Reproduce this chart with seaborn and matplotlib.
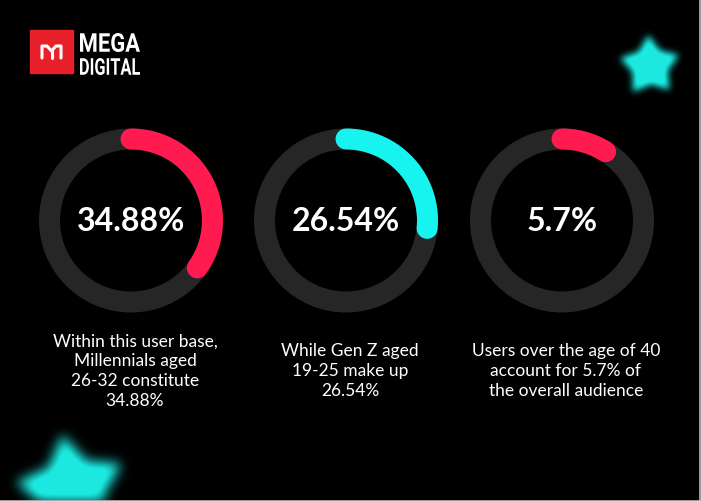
import numpy as np
import matplotlib
matplotlib.use("Agg")
import matplotlib.pyplot as plt
from matplotlib.patches import Circle, Rectangle, PathPatch
from matplotlib.path import Path
from matplotlib.textpath import TextPath
from matplotlib.font_manager import FontProperties
from matplotlib.transforms import Affine2D
import pandas as pd
import seaborn as sns

# Chart data
labels = ["34.88%", "26.54%", "5.7%"]
shares = [34.88, 26.54, 5.7]
# the third ring is drawn longer than its label in the original
arc_shares = [34.88, 26.54, 9.0]
captions = [
    "Within this user base,\nMillennials aged\n26-32 constitute\n34.88%",
    "While Gen Z aged\n19-25 make up\n26.54%",
    "Users over the age of 40\naccount for 5.7% of\nthe overall audience",
]
arc_colors = ["#ff1a4f", "#17f4ef", "#ff1a4f"]

sns.set_theme(style="dark")
plt.rcParams["font.family"] = ["Lato", "DejaVu Sans"]

W, H = 701, 501
fig = plt.figure(figsize=(W / 100, H / 100), dpi=100, facecolor="black")
ax = fig.add_axes([0, 0, 1, 1])
ax.set_facecolor("black")
ax.set_xlim(0, W)
ax.set_ylim(H, 0)
ax.axis("off")

# Blurred glowing stars
def star_path(cx, cy, r_out, r_in, rot):
    pts = []
    for i in range(10):
        ang = np.deg2rad(rot + i * 36)
        r = r_out if i % 2 == 0 else r_in
        pts.append((cx + r * np.sin(ang), cy - r * np.cos(ang)))
    return Path(pts + [pts[0]])

def blur(img, sigma):
    k = np.arange(-int(3 * sigma), int(3 * sigma) + 1)
    g = np.exp(-k**2 / (2 * sigma**2))
    g /= g.sum()
    img = np.apply_along_axis(lambda v: np.convolve(v, g, mode="same"), 0, img)
    img = np.apply_along_axis(lambda v: np.convolve(v, g, mode="same"), 1, img)
    return img

yy, xx = np.mgrid[0:H, 0:W]
grid = np.column_stack([xx.ravel() + 0.5, yy.ravel() + 0.5])
glow = np.zeros((H, W))
for cx, cy, ro, ri, rot, sig in [(650, 66, 31, 18, -3, 3.5), (72, 490, 56, 32, -10, 6.0)]:
    m = star_path(cx, cy, ro, ri, rot).contains_points(grid).reshape(H, W).astype(float)
    glow = np.maximum(glow, blur(m, sig))
rgba = np.zeros((H, W, 4))
rgba[..., 0] = 0x1c / 255
rgba[..., 1] = 0xe8 / 255
rgba[..., 2] = 0xe0 / 255
rgba[..., 3] = np.clip(glow * 1.15, 0, 1)
ax.imshow(rgba, extent=(0, W, H, 0), zorder=1, interpolation="bilinear")

# Donut rings
centers_x = [131, 346, 562]
cy = 220.5
r_mid = 81.5
lw = 21 * 72 / 100

for i, (lab, share, arc, cap, col) in enumerate(zip(labels, shares, arc_shares, captions, arc_colors)):
    cx = centers_x[i]
    ax.add_patch(Circle((cx, cy), r_mid, fill=False, lw=lw, ec="#262626", zorder=2))
    theta = np.linspace(0, 2 * np.pi * arc / 100, 200)
    arc_df = pd.DataFrame({"x": cx + r_mid * np.sin(theta), "y": cy - r_mid * np.cos(theta)})
    sns.lineplot(data=arc_df, x="x", y="y", sort=False, estimator=None, ax=ax,
                 color=col, lw=lw, solid_capstyle="round", zorder=3)
    ax.text(cx, cy + 1, lab, color="white", fontsize=23, fontweight="bold",
            ha="center", va="center", zorder=4)
    ax.text(cx + 4, 371, cap, color="white", fontsize=12.5, ha="center", va="center",
            linespacing=1.3, zorder=4)

# Logo
ax.add_patch(Rectangle((30, 30), 43, 43, color="#e8202a", zorder=4))
ax.plot([42, 42, 47, 51.5, 56, 61, 61], [58, 46, 46, 51, 46, 46, 58], color="white",
        lw=2.2, solid_joinstyle="round", zorder=5)
ax.plot([51.5, 51.5], [51, 58], color="white", lw=2.2, zorder=5)

logo_font = FontProperties(family="Roboto", weight="bold")
def squeezed_text(s, x0, y_top, width, height):
    tp = TextPath((0, 0), s, size=100, prop=logo_font)
    ext = tp.get_extents()
    tr = (Affine2D().translate(-ext.x0, -ext.y1)
          .scale(width / ext.width, -height / ext.height)
          .translate(x0, y_top))
    ax.add_patch(PathPatch(tr.transform_path(tp), fc="white", ec="none", zorder=5))

squeezed_text("MEGA", 80, 33, 60, 19)
squeezed_text("DIGITAL", 80, 58, 60, 17)

ax.axvline(700, color="#bbbbbb", lw=1.2, zorder=6)
ax.axhline(500.5, color="#bbbbbb", lw=1.2, zorder=6)

fig.savefig("out.png", dpi=100, facecolor="black")
